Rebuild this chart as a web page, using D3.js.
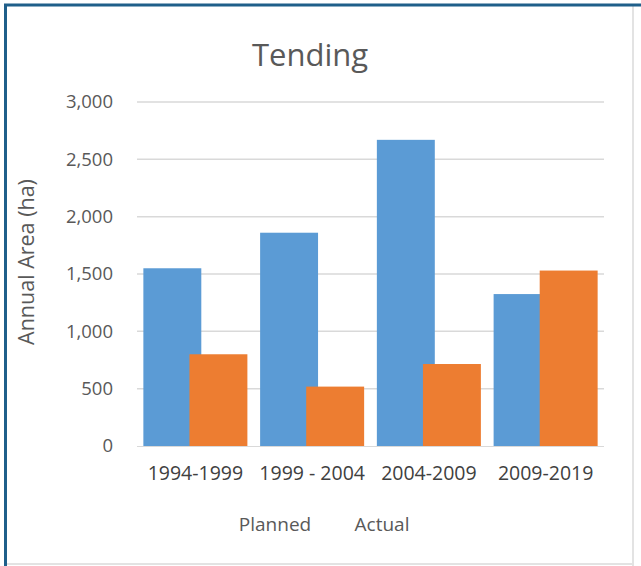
<!DOCTYPE html>
<html><head><meta charset="utf-8">
<script src="https://cdn.jsdelivr.net/npm/d3@7/dist/d3.min.js"></script>
<style>body{margin:0;background:#fff;}svg{display:block;font-family:"Open Sans",Lato,sans-serif;}</style>
</head><body>
<svg id="c" width="641" height="566"></svg>
<script>
const categories = ["1994-1999", "1999 - 2004", "2004-2009", "2009-2019"];
const seriesNames = ["Planned", "Actual"];
const planned = [1550, 1860, 2670, 1325];
const actual = [800, 518, 715, 1530];
const yTicks = [0, 500, 1000, 1500, 2000, 2500, 3000];
const titleText = "Tending";
const yTitle = "Annual Area (ha)";
const colors = ["#5b9bd5", "#ed7d31"];

const svg = d3.select("#c");
// frame
svg.append("rect").attr("x",0).attr("y",0).attr("width",641).attr("height",566).attr("fill","#fff");
svg.append("line").attr("x1",633).attr("x2",633).attr("y1",6).attr("y2",566).attr("stroke","#e3e3e3").attr("stroke-width",2);
svg.append("line").attr("x1",6).attr("x2",633).attr("y1",564).attr("y2",564).attr("stroke","#e3e3e3").attr("stroke-width",2);
svg.append("line").attr("x1",4).attr("x2",641).attr("y1",5).attr("y2",5).attr("stroke","#1f5f8a").attr("stroke-width",3);
svg.append("line").attr("x1",5.5).attr("x2",5.5).attr("y1",4).attr("y2",566).attr("stroke","#1f5f8a").attr("stroke-width",3);

const x = d3.scaleBand().domain(categories).range([137, 604]).paddingInner(0.109).paddingOuter(0.0545);
const y = d3.scaleLinear().domain([0, 3000]).range([446, 102]);

// gridlines
svg.append("g").selectAll("line").data(yTicks.filter(d=>d>0)).join("line")
  .attr("x1",137).attr("x2",604).attr("y1",d=>y(d)).attr("y2",d=>y(d))
  .attr("stroke","#d9d9d9").attr("stroke-width",1.5);

// y axis labels
const yAxis = d3.axisLeft(y).tickValues(yTicks).tickFormat(d3.format(",")).tickSize(0).tickPadding(0);
const ga = svg.append("g").attr("transform","translate(113,0)").call(yAxis);
ga.select(".domain").remove();
ga.selectAll("text").attr("fill","#595959").style("font-size","18.5px").style("font-family","'Open Sans',sans-serif");

// bars: overlapping
const bw = x.bandwidth();
const barW = bw * 0.557;
const data = categories.map((c,i)=>({c, vals:[planned[i], actual[i]]}));
seriesNames.forEach((s, si) => {
  svg.append("g").selectAll("rect").data(data).join("rect")
    .attr("x", d => si===0 ? x(d.c) : x(d.c) + bw - barW)
    .attr("width", barW)
    .attr("y", d => y(d.vals[si]))
    .attr("height", d => y(0) - y(d.vals[si]))
    .attr("fill", colors[si]);
});

// baseline
svg.append("line").attr("x1",137).attr("x2",604).attr("y1",446.5).attr("y2",446.5).attr("stroke","#d9d9d9").attr("stroke-width",1);

// x axis labels
const xAxis = d3.axisBottom(x).tickSize(0).tickPadding(0);
const gx = svg.append("g").attr("transform","translate(0,466)").call(xAxis);
gx.select(".domain").remove();
gx.selectAll("text").attr("fill","#404040").style("font-size","19.5px").style("font-family","'Open Sans',sans-serif");

// title
svg.append("text").attr("x",310).attr("y",66).attr("text-anchor","middle")
  .attr("fill","#595959").style("font-size","31px").text(titleText);

// y title
svg.append("text").attr("transform","translate(34,262) rotate(-90)").attr("text-anchor","middle")
  .attr("fill","#595959").style("font-size","21.5px").text(yTitle);

// legend (text only as in reference)
const legX = [275, 382];
svg.append("g").selectAll("text").data(seriesNames).join("text")
  .attr("x",(d,i)=>legX[i]).attr("y",531).attr("text-anchor","middle")
  .attr("fill","#595959").style("font-size","19px").text(d=>d);
</script>
</body></html>
